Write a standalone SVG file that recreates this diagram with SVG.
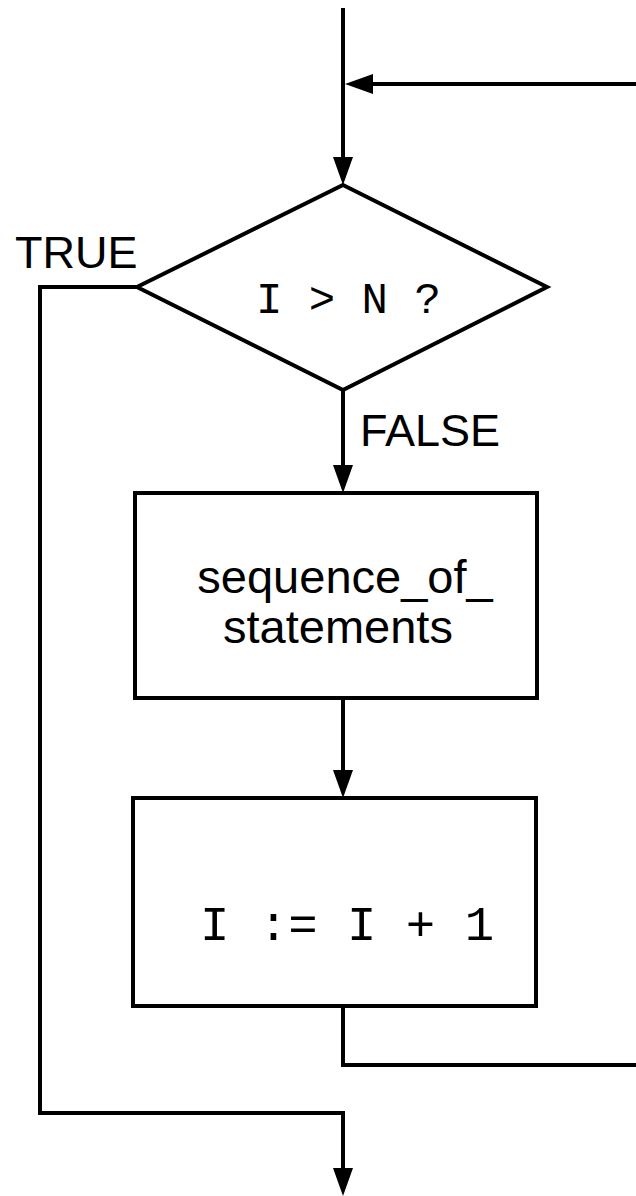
<svg xmlns="http://www.w3.org/2000/svg" width="636" height="1196" viewBox="0 0 636 1196">
  <style>
    .ln{fill:none;stroke:#000;stroke-width:4;stroke-linejoin:miter;stroke-linecap:butt}
    .shape{fill:#fff;stroke:#000;stroke-width:4;stroke-linejoin:miter}
    .lbl{font-family:"Liberation Sans",Arial,Helvetica,sans-serif;fill:#000}
    .code{font-family:"Liberation Mono","Courier New",monospace;fill:#000}
  </style>
  <defs>
    <marker id="arr" viewBox="0 0 28 20" refX="18" refY="10" markerWidth="28" markerHeight="20" markerUnits="userSpaceOnUse" orient="auto">
      <path d="M0,0 L28,10 L0,20 z" fill="#000"/>
    </marker>
  </defs>
  <rect x="0" y="0" width="636" height="1196" fill="#fff"/>

  <g id="connectors">
    <path class="ln" d="M343,8 V175" marker-end="url(#arr)"/>
    <path class="ln" d="M636,84 H355" marker-end="url(#arr)"/>
    <path class="ln" d="M343,390 V483" marker-end="url(#arr)"/>
    <path class="ln" d="M343,698 V788" marker-end="url(#arr)"/>
    <path class="ln" d="M137,287 H40 V1113 H343 V1186" marker-end="url(#arr)"/>
    <path class="ln" d="M343,1006 V1065 H636"/>
  </g>

  <g id="decision">
    <polygon class="shape" points="343,185 547,287 343,390 137,287"/>
    <text class="code" x="256" y="313" font-size="44" xml:space="preserve">I &gt; N ?</text>
  </g>

  <g id="label-true">
    <text class="lbl" x="15" y="268" font-size="45">TRUE</text>
  </g>
  <g id="label-false">
    <text class="lbl" x="360" y="446" font-size="45">FALSE</text>
  </g>

  <g id="statements">
    <rect class="shape" x="135" y="493" width="402" height="205"/>
    <text class="lbl" x="345" y="593" font-size="47" text-anchor="middle">sequence_of_</text>
    <text class="lbl" x="338" y="643" font-size="47" text-anchor="middle">statements</text>
  </g>

  <g id="increment">
    <rect class="shape" x="133" y="798" width="403" height="208"/>
    <text class="code" x="200" y="940" font-size="49" xml:space="preserve">I := I + 1</text>
  </g>
</svg>
